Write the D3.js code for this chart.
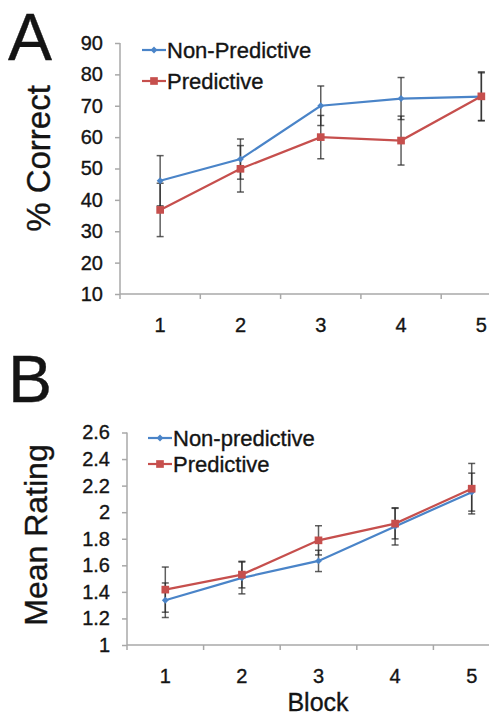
<!DOCTYPE html>
<html>
<head>
<meta charset="utf-8">
<script src="https://cdn.jsdelivr.net/npm/d3@7"></script>
<style>
  html, body { margin: 0; padding: 0; background: #fff; }
  svg { display: block; }
  text { font-family: "Liberation Sans", Arial, Helvetica, sans-serif; fill: #141414; stroke: #141414; stroke-width: 0.35px; }
</style>
</head>
<body>
<svg id="chart" width="489" height="717"></svg>
<script>
// ---------- data ----------
const blocks = [1, 2, 3, 4, 5];

const seriesNamesA = ["Non-Predictive", "Predictive"];
const aNonPred = [46.1, 53.0, 70.0, 72.3, 72.9];
const aNonPredErr = [8.0, 6.4, 6.3, 6.7, 7.6];
const aPred = [36.8, 49.9, 60.0, 58.9, 73.0];
const aPredErr = [8.5, 7.4, 6.9, 7.8, 7.8];
const aTicks = [10, 20, 30, 40, 50, 60, 70, 80, 90];

const seriesNamesB = ["Non-predictive", "Predictive"];
const bNonPred = [1.337, 1.505, 1.633, 1.893, 2.151];
const bNonPredErr = [0.13, 0.12, 0.08, 0.14, 0.143];
const bPred = [1.417, 1.53, 1.788, 1.914, 2.177];
const bPredErr = [0.17, 0.10, 0.11, 0.115, 0.19];
const bTicks = [1, 1.2, 1.4, 1.6, 1.8, 2, 2.2, 2.4, 2.6];

const blue = "#4a84c8";
const red = "#c64f4d";
const axisColor = "#a8a8a8";

const svg = d3.select("#chart");

function panel(cfg) {
  const g = svg.append("g");
  const x = d3.scaleBand().domain(blocks).range([cfg.left, cfg.right]).padding(0);
  const y = d3.scaleLinear().domain(cfg.domain).range([cfg.bottom, cfg.top]);
  const cx = d => x(d) + x.bandwidth() / 2;

  // y axis
  const yAxis = d3.axisLeft(y).tickValues(cfg.ticks).tickSize(5).tickSizeOuter(0)
    .tickFormat(cfg.fmt).tickPadding(12);
  const ya = g.append("g").attr("transform", `translate(${cfg.left},0)`).call(yAxis);
  ya.select(".domain").attr("stroke", axisColor).attr("stroke-width", 1.5)
    .attr("d", `M0,${cfg.top}V${cfg.bottom + 5}`);
  ya.selectAll(".tick line").attr("stroke", axisColor).attr("stroke-width", 1.5);
  ya.selectAll(".tick text").attr("font-size", 20).attr("fill", "#141414")
    .attr("font-family", "Liberation Sans, Arial, sans-serif");

  // x axis: ticks at category boundaries
  const xa = g.append("g").attr("transform", `translate(0,${cfg.bottom})`);
  xa.append("line").attr("x1", cfg.left).attr("x2", cfg.right)
    .attr("stroke", axisColor).attr("stroke-width", 1.5);
  xa.selectAll("line.tk").data(blocks.slice(1)).join("line").attr("class", "tk")
    .attr("x1", d => x(d)).attr("x2", d => x(d)).attr("y1", 0).attr("y2", 5)
    .attr("stroke", axisColor).attr("stroke-width", 1.5);
  xa.selectAll("text").data(blocks).join("text")
    .attr("x", d => cx(d)).attr("y", cfg.xLabelY - cfg.bottom)
    .attr("text-anchor", "middle").attr("font-size", 20).text(d => d);

  const series = [
    { vals: cfg.s1, err: cfg.e1, color: blue, shape: "diamond" },
    { vals: cfg.s2, err: cfg.e2, color: red, shape: "square" }
  ];

  // error bars (under lines/markers)
  series.forEach(s => {
    const eb = g.append("g").attr("stroke", "#2a2a2a").attr("stroke-opacity", 0.75).attr("stroke-width", 1.5);
    blocks.forEach((b, i) => {
      const x0 = cx(b), y1 = y(s.vals[i] + s.err[i]), y2 = y(s.vals[i] - s.err[i]);
      eb.append("line").attr("x1", x0).attr("x2", x0).attr("y1", y1).attr("y2", y2);
      eb.append("line").attr("x1", x0 - 3.5).attr("x2", x0 + 3.5).attr("y1", y1).attr("y2", y1);
      eb.append("line").attr("x1", x0 - 3.5).attr("x2", x0 + 3.5).attr("y1", y2).attr("y2", y2);
    });
  });

  const line = d3.line().x((d, i) => cx(blocks[i])).y(d => y(d));
  series.forEach(s => {
    g.append("path").datum(s.vals).attr("d", line).attr("fill", "none")
      .attr("stroke", s.color).attr("stroke-width", 2.2);
  });
  const diamond = d3.symbol().type(d3.symbolDiamond2).size(30);
  const square = d3.symbol().type(d3.symbolSquare2).size(75);
  series.forEach(s => {
    g.selectAll(null).data(s.vals).join("path")
      .attr("transform", (d, i) => `translate(${cx(blocks[i])},${y(d)})`)
      .attr("d", s.shape === "diamond" ? diamond : square)
      .attr("fill", s.color).attr("stroke", "none");
  });

  // legend
  const lg = g.append("g");
  cfg.legend.forEach((name, i) => {
    const ly = cfg.legendY[i];
    const c = i === 0 ? blue : red;
    lg.append("line").attr("x1", cfg.legendX).attr("x2", cfg.legendX + 24)
      .attr("y1", ly).attr("y2", ly).attr("stroke", c).attr("stroke-width", 2.2);
    lg.append("path").attr("transform", `translate(${cfg.legendX + 12},${ly})`)
      .attr("d", i === 0 ? diamond : square).attr("fill", c);
    lg.append("text").attr("x", cfg.legendX + 25).attr("y", ly + 8)
      .attr("font-size", 22).text(name);
  });

  // y title
  g.append("text").attr("transform", `translate(${cfg.yTitleX},${cfg.yTitleY}) rotate(-90)`)
    .attr("text-anchor", "middle").attr("font-size", cfg.yTitleSize).text(cfg.yTitle);

  // panel letter
  g.append("text").attr("x", cfg.letterX).attr("y", cfg.letterY)
    .attr("font-size", 66).text(cfg.letter);
}

panel({
  left: 120, right: 521.5, top: 43, bottom: 294, domain: [10, 90], ticks: aTicks,
  fmt: d3.format("d"), xLabelY: 331.5,
  s1: aNonPred, e1: aNonPredErr, s2: aPred, e2: aPredErr,
  legend: seriesNamesA, legendX: 142, legendY: [50, 81],
  yTitle: "% Correct", yTitleX: 50, yTitleY: 158.5, yTitleSize: 33,
  letter: "A", letterX: 8, letterY: 60
});

panel({
  left: 127, right: 510, top: 432.5, bottom: 645, domain: [1, 2.6], ticks: bTicks,
  fmt: d => d3.format(".1f")(d).replace(/\.0$/, ""), xLabelY: 682.5,
  s1: bNonPred, e1: bNonPredErr, s2: bPred, e2: bPredErr,
  legend: seriesNamesB, legendX: 148, legendY: [438, 464],
  yTitle: "Mean Rating", yTitleX: 46.5, yTitleY: 535, yTitleSize: 32,
  letter: "B", letterX: 8, letterY: 401.5
});

// x title
svg.append("text").attr("x", 318).attr("y", 711).attr("text-anchor", "middle")
  .attr("font-size", 25).text("Block");
</script>
</body>
</html>
